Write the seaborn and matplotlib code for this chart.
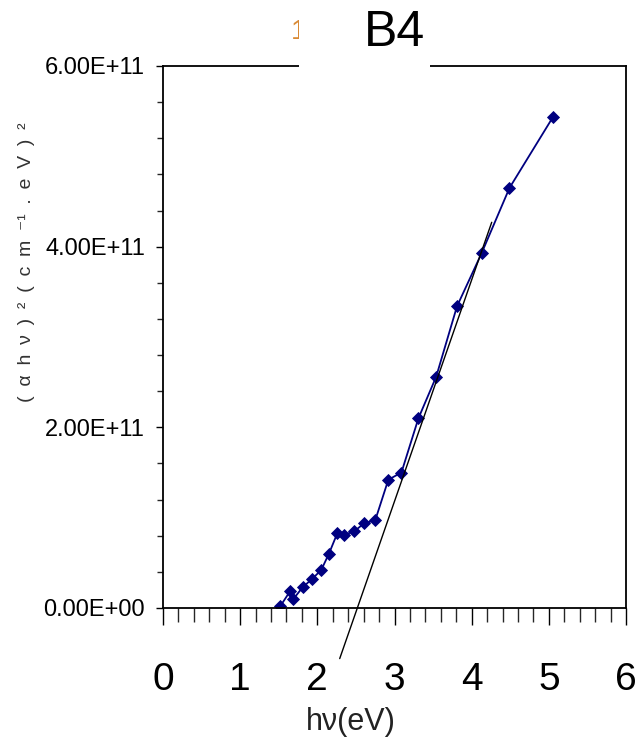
import matplotlib
matplotlib.use("Agg")
import matplotlib.pyplot as plt
import seaborn as sns
import pandas as pd
from matplotlib.patches import Rectangle
from matplotlib.ticker import MultipleLocator, FuncFormatter

# Tauc plot data: photon energy (eV) vs (alpha*h*nu)^2 in units of 1e11
photon_energy = [1.52, 1.65, 1.69, 1.81, 1.93, 2.05, 2.15, 2.26, 2.35, 2.48,
                 2.61, 2.75, 2.92, 3.09, 3.31, 3.54, 3.81, 4.13, 4.49, 5.05]
alpha_hv_sq_e11 = [0.02, 0.19, 0.10, 0.23, 0.32, 0.42, 0.60, 0.83, 0.81, 0.85,
                   0.94, 0.97, 1.42, 1.50, 2.10, 2.56, 3.34, 3.93, 4.65, 5.43]

# Linear extrapolation of the absorption edge (endpoints)
tangent_energy = [2.29, 4.26]
tangent_value_e11 = [-0.56, 4.27]

x_tick_values = [0, 1, 2, 3, 4, 5, 6]
y_tick_values_e11 = [0, 2, 4, 6]

sample_name = "B4"
x_label = "hν(eV)"
sp = "\u2002"
y_label = sp.join(["(", "α", "h", "ν", ")", "²", "(", "c", "m", "⁻¹", ".",
                   "e", "V", ")", "²"])

data = pd.DataFrame({"E": photon_energy,
                     "A": [v * 1e11 for v in alpha_hv_sq_e11]})
fit = pd.DataFrame({"E": tangent_energy,
                    "A": [v * 1e11 for v in tangent_value_e11]})

sns.set_style("ticks")
narrow = ["Liberation Sans Narrow", "Liberation Sans", "DejaVu Sans"]
plt.rcParams["font.family"] = narrow

W, H = 641, 746
fig = plt.figure(figsize=(W / 100, H / 100), dpi=100)
ax = fig.add_axes([163 / W, 1 - 608 / H, (626 - 163) / W, (608 - 66) / H])

sns.lineplot(data=data, x="E", y="A", ax=ax, color="#000080", lw=1.3,
             marker="D", markersize=6, markeredgewidth=0.6,
             markeredgecolor="#000080", sort=False, estimator=None)
sns.lineplot(data=fit, x="E", y="A", ax=ax, color="black", lw=1.0,
             sort=False, estimator=None)
ax.lines[-1].set_clip_on(False)

ax.set_xlim(0, 6)
ax.set_ylim(0, 6e11)
ax.set_xticks(x_tick_values)
ax.set_yticks([v * 1e11 for v in y_tick_values_e11])
ax.xaxis.set_minor_locator(MultipleLocator(0.2))
ax.yaxis.set_minor_locator(MultipleLocator(0.4e11))
ax.yaxis.set_major_formatter(FuncFormatter(lambda v, p: f"{v:.2E}"))
ax.set_xlabel("")
ax.set_ylabel("")

ax.tick_params(axis="x", which="major", direction="out", length=12, width=1.0,
               pad=27, labelsize=28, colors="black")
ax.tick_params(axis="x", which="minor", direction="out", length=10, width=1.0)
ax.tick_params(axis="y", which="major", direction="out", length=5, width=1.0,
               pad=8, labelsize=17, colors="black")
ax.tick_params(axis="y", which="minor", direction="out", length=4, width=1.0)

for side in ["left", "right", "top", "bottom"]:
    ax.spines[side].set_visible(True)
    ax.spines[side].set_linewidth(1.3)
    ax.spines[side].set_color("black")

# Title sitting on the top frame, with a white gap cut into the frame
fig.text(299 / W, 1 - 32 / H, "1", ha="center", va="center", fontsize=20,
         color="#d98a35", family=narrow, zorder=1)
fig.add_artist(Rectangle((299 / W, 1 - 75 / H), (430 - 299) / W, 75 / H,
                         transform=fig.transFigure, facecolor="white",
                         edgecolor="none", zorder=2))
fig.text(394 / W, 1 - 33 / H, sample_name, ha="center", va="center",
         fontsize=36, family=narrow, color="black", zorder=3)

fig.text(351 / W, 1 - 722 / H, x_label, ha="center", va="center",
         fontsize=22, family=narrow, color="#222222")
fig.text(27 / W, 1 - 262 / H, y_label, ha="center", va="center",
         rotation=90, fontsize=14, family=["Liberation Sans", "DejaVu Sans"],
         color="#333333")

fig.savefig("out.png", dpi=100, facecolor="white")
